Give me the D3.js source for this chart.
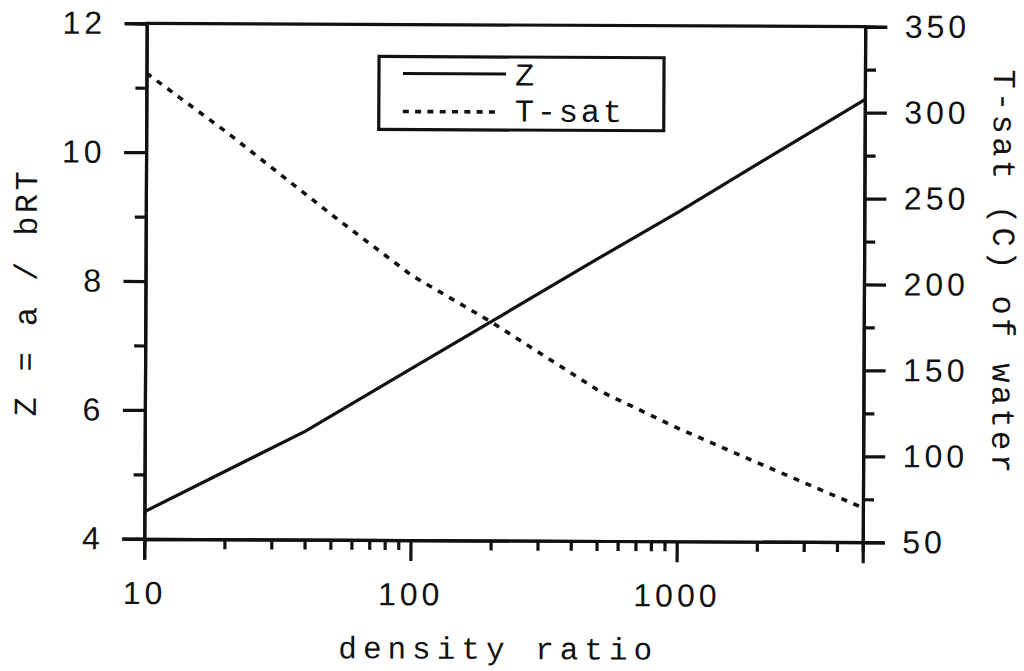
<!DOCTYPE html>
<html>
<head>
<meta charset="utf-8">
<script src="https://cdn.jsdelivr.net/npm/d3@7"></script>
<style>
  html, body { margin: 0; padding: 0; background: #fff; }
  svg { display: block; }
  .tick-lbl { font-family: "Liberation Sans", Arial, sans-serif; font-size: 32px; letter-spacing: 4px; fill: #111; }
  .mono { font-family: "Liberation Mono", "Courier New", monospace; fill: #111; }
</style>
</head>
<body>
<svg id="chart" width="1024" height="671"></svg>
<script>
// Compressibility parameter Z and saturation temperature of water vs. density ratio
const zRatio   = [10, 20, 40, 100, 200, 500, 1000, 2000, 5000];
const zValues  = [4.42, 5.05, 5.68, 6.66, 7.40, 8.38, 9.11, 9.87, 10.87];
const tRatio   = [10, 20, 50, 100, 200, 500, 1000, 2000, 5000];
const tValues  = [321, 287, 239, 204, 177, 138, 116, 96, 70];

const xMajor   = [10, 100, 1000];
const xMinor   = [20, 30, 40, 50, 60, 70, 80, 90, 200, 300, 400, 500, 600, 700, 800, 900, 2000, 3000, 4000];
const zMajor   = [4, 6, 8, 10, 12];
const zMinor   = [5, 7, 9, 11];
const tMajor   = [50, 100, 150, 200, 250, 300, 350];
const tMinor   = [75, 125, 175, 225, 275, 325];

const L = 145.5, R = 864, T = 25, B = 540.5;
const ink = "#111";
const sw = 3.2;

const x  = d3.scaleLog().domain([10, 5000]).range([L, R]);
const yZ = d3.scaleLinear().domain([4, 12]).range([B, T]);
const yT = d3.scaleLinear().domain([50, 350]).range([B, T]);

const svg = d3.select("#chart");
const g = svg.append("g").attr("transform", "rotate(0.27 504 282)");

function styleAxis(sel) {
  sel.select(".domain").attr("stroke", ink).attr("stroke-width", sw);
  sel.selectAll(".tick line").attr("stroke", ink).attr("stroke-width", sw);
  sel.selectAll(".tick text").attr("class", "tick-lbl").attr("font-size", null).attr("font-family", null);
  sel.attr("font-size", null).attr("font-family", null);
}

// minor ticks first, then major axes on top
g.append("g").attr("transform", `translate(0,${B})`)
  .call(d3.axisBottom(x).tickValues(xMinor).tickSize(10).tickFormat(""))
  .call(styleAxis);
g.append("g").attr("transform", `translate(${L},0)`)
  .call(d3.axisLeft(yZ).tickValues(zMinor).tickSize(11).tickFormat(""))
  .call(styleAxis);
g.append("g").attr("transform", `translate(${R},0)`)
  .call(d3.axisRight(yT).tickValues(tMinor).tickSize(11).tickFormat(""))
  .call(styleAxis);

g.append("g").attr("transform", `translate(0,${B})`)
  .call(d3.axisBottom(x).tickValues(xMajor).tickSize(21).tickPadding(21.5).tickFormat(d3.format("d")))
  .call(styleAxis);
g.append("g").attr("transform", `translate(${L},0)`)
  .call(d3.axisLeft(yZ).tickValues(zMajor).tickSize(22).tickPadding(18.5).tickFormat(d3.format("d")))
  .call(styleAxis);
g.append("g").attr("transform", `translate(${R},0)`)
  .call(d3.axisRight(yT).tickValues(tMajor).tickSize(22).tickPadding(17.5).tickFormat(d3.format("d")))
  .call(styleAxis);

// top frame
g.append("line").attr("x1", L).attr("x2", R).attr("y1", T).attr("y2", T)
  .attr("stroke", ink).attr("stroke-width", sw).attr("stroke-linecap", "square");

// curves
const zLine = d3.line().x((d, i) => x(zRatio[i])).y(d => yZ(d));
const tLine = d3.line().x((d, i) => x(tRatio[i])).y(d => yT(d));

g.append("path").datum(zValues).attr("d", zLine)
  .attr("fill", "none").attr("stroke", ink).attr("stroke-width", sw).attr("stroke-linejoin", "round");
g.append("path").datum(tValues).attr("d", tLine)
  .attr("fill", "none").attr("stroke", ink).attr("stroke-width", 3.6)
  .attr("stroke-dasharray", "6,7");

// legend
const lg = g.append("g");
lg.append("rect").attr("x", 378).attr("y", 57).attr("width", 285).attr("height", 73)
  .attr("fill", "#fff").attr("stroke", ink).attr("stroke-width", sw);
lg.append("line").attr("x1", 402).attr("x2", 505).attr("y1", 74).attr("y2", 74)
  .attr("stroke", ink).attr("stroke-width", sw);
lg.append("line").attr("x1", 402).attr("x2", 500).attr("y1", 112).attr("y2", 112)
  .attr("stroke", ink).attr("stroke-width", 3.6).attr("stroke-dasharray", "6,6.3");
lg.append("text").attr("class", "mono").attr("x", 514).attr("y", 85.5)
  .attr("font-size", 32).attr("letter-spacing", "2.8px").text("Z");
lg.append("text").attr("class", "mono").attr("x", 514).attr("y", 121.5)
  .attr("font-size", 32).attr("letter-spacing", "2.8px").text("T-sat");

// axis titles
g.append("text").attr("class", "mono").attr("font-size", 31)
  .attr("letter-spacing", "6px").attr("text-anchor", "middle")
  .attr("x", 500).attr("y", 659).text("density ratio");
g.append("text").attr("class", "mono").attr("font-size", 32)
  .attr("letter-spacing", "3.4px").attr("text-anchor", "middle")
  .attr("transform", "translate(36.5,294.5) rotate(-90)").text("Z = a / bRT");
g.append("text").attr("class", "mono").attr("font-size", 32)
  .attr("letter-spacing", "3.4px").attr("text-anchor", "middle")
  .attr("transform", "translate(993,270.5) rotate(90)").text("T-sat (C) of water");
</script>
</body>
</html>
